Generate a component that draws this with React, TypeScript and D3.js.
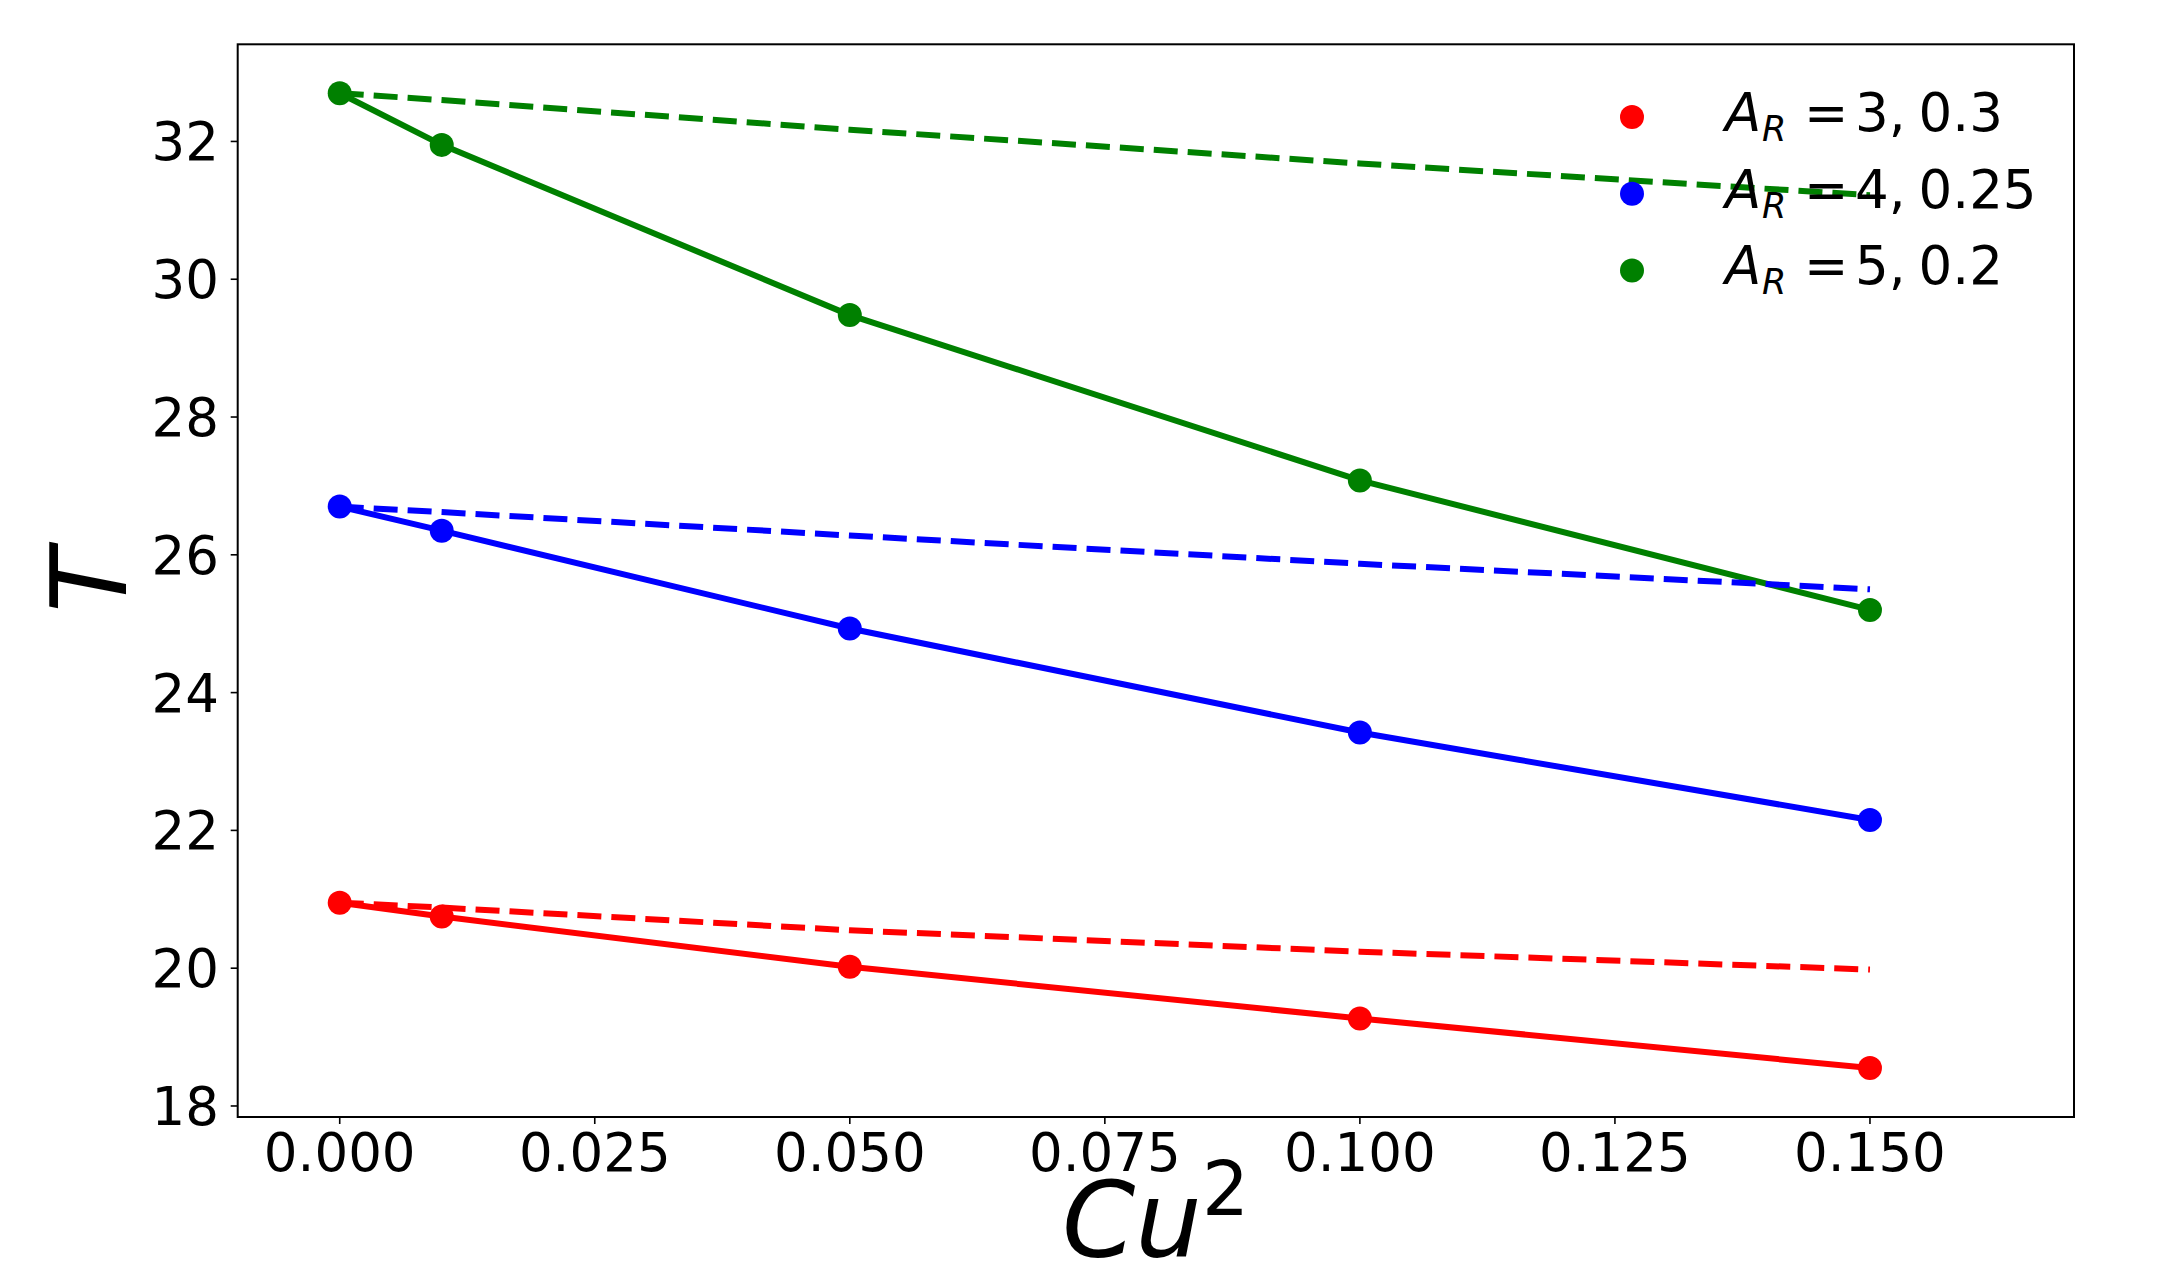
import React, { useMemo } from 'react';
import * as d3 from 'd3';

// Cu^2 sample points shared by every series
const cu2 = [0, 0.01, 0.05, 0.1, 0.15];

// solid lines with markers
const tRed = [20.95, 20.75, 20.02, 19.27, 18.55];
const tBlue = [26.7, 26.35, 24.93, 23.42, 22.15];
const tGreen = [32.7, 31.95, 29.48, 27.08, 25.2];

// dashed companions (no markers)
const dRed = [20.95, 20.88, 20.55, 20.24, 19.98];
const dBlue = [26.7, 26.62, 26.28, 25.87, 25.5];
const dGreen = [32.7, 32.6, 32.17, 31.68, 31.22];

const seriesColors = ['#ff0000', '#0000ff', '#008000'];
const legendA = ['3,', '4,', '5,'];
const legendB = ['0.3', '0.25', '0.2'];

const xTicks = [0, 0.025, 0.05, 0.075, 0.1, 0.125, 0.15];
const yTicks = [18, 20, 22, 24, 26, 28, 30, 32];

const W = 2161;
const H = 1285;
const FONT = '"DejaVu Sans", sans-serif';

const App: React.FC = () => {
  const left = 237.7;
  const right = 2074;
  const top = 44.3;
  const bottom = 1117;

  const x = useMemo(() => d3.scaleLinear().domain([-0.01, 0.17]).range([left, right]), []);
  const y = useMemo(() => d3.scaleLinear().domain([17.84, 33.41]).range([bottom, top]), []);

  const line = d3.line<number>()
    .x((_, i) => x(cu2[i]))
    .y(d => y(d));

  const solids = [tRed, tBlue, tGreen];
  const dashes = [dRed, dBlue, dGreen];

  const legendX = 1632;
  const legendTextX = 1725;
  const legendY0 = 131;
  const legendStep = 76.7;

  return (
    <svg
      width={W}
      height={H}
      style={{ position: 'absolute', left: 0, top: 0, background: '#fff' }}
      fontFamily={FONT}
    >
      <rect x={0} y={0} width={W} height={H} fill="#fff" />

      {/* lines */}
      {solids.map((s, i) => (
        <path key={'s' + i} d={line(s) ?? ''} fill="none" stroke={seriesColors[i]} strokeWidth={6} />
      ))}
      {dashes.map((s, i) => (
        <path key={'d' + i} d={line(s) ?? ''} fill="none" stroke={seriesColors[i]} strokeWidth={6} strokeDasharray="24,10" />
      ))}
      {solids.map((s, i) => (
        <g key={'m' + i} fill={seriesColors[i]}>
          {s.map((v, j) => (
            <circle key={j} cx={x(cu2[j])} cy={y(v)} r={12} />
          ))}
        </g>
      ))}

      {/* frame */}
      <rect x={left} y={top} width={right - left} height={bottom - top} fill="none" stroke="#000" strokeWidth={2} />

      {/* x axis */}
      {xTicks.map(t => (
        <g key={'xt' + t}>
          <line x1={x(t)} x2={x(t)} y1={bottom} y2={bottom + 7} stroke="#000" strokeWidth={1.6} />
          <text x={x(t)} y={1171} textAnchor="middle" fontSize={53}>{t.toFixed(3)}</text>
        </g>
      ))}

      {/* y axis */}
      {yTicks.map(t => (
        <g key={'yt' + t}>
          <line x1={left - 7} x2={left} y1={y(t)} y2={y(t)} stroke="#000" strokeWidth={1.6} />
          <text x={219} y={y(t) + 19} textAnchor="end" fontSize={53}>{t}</text>
        </g>
      ))}

      {/* axis labels */}
      <text x={1062} y={1257} fontSize={105}>
        <tspan fontStyle="italic">Cu</tspan>
        <tspan fontSize={74} dy={-42}>2</tspan>
      </text>
      <text transform={`translate(126, ${(top + bottom) / 2}) rotate(-90)`} textAnchor="middle" fontSize={105} fontStyle="italic">T</text>

      {/* legend */}
      {legendA.map((a, i) => {
        const by = legendY0 + i * legendStep;
        return (
          <g key={'lg' + i}>
            <circle cx={legendX} cy={by - 14} r={12} fill={seriesColors[i]} />
            <text x={legendTextX} y={by} fontSize={53} fontStyle="italic">A</text>
            <text x={legendTextX + 37} y={by + 10} fontSize={35} fontStyle="italic">R</text>
            <text x={legendTextX + 79} y={by} fontSize={53}>=</text>
            <text x={legendTextX + 130} y={by} fontSize={53}>
              {a}
              <tspan dx={13}>{legendB[i]}</tspan>
            </text>
          </g>
        );
      })}
    </svg>
  );
};

export default App;
